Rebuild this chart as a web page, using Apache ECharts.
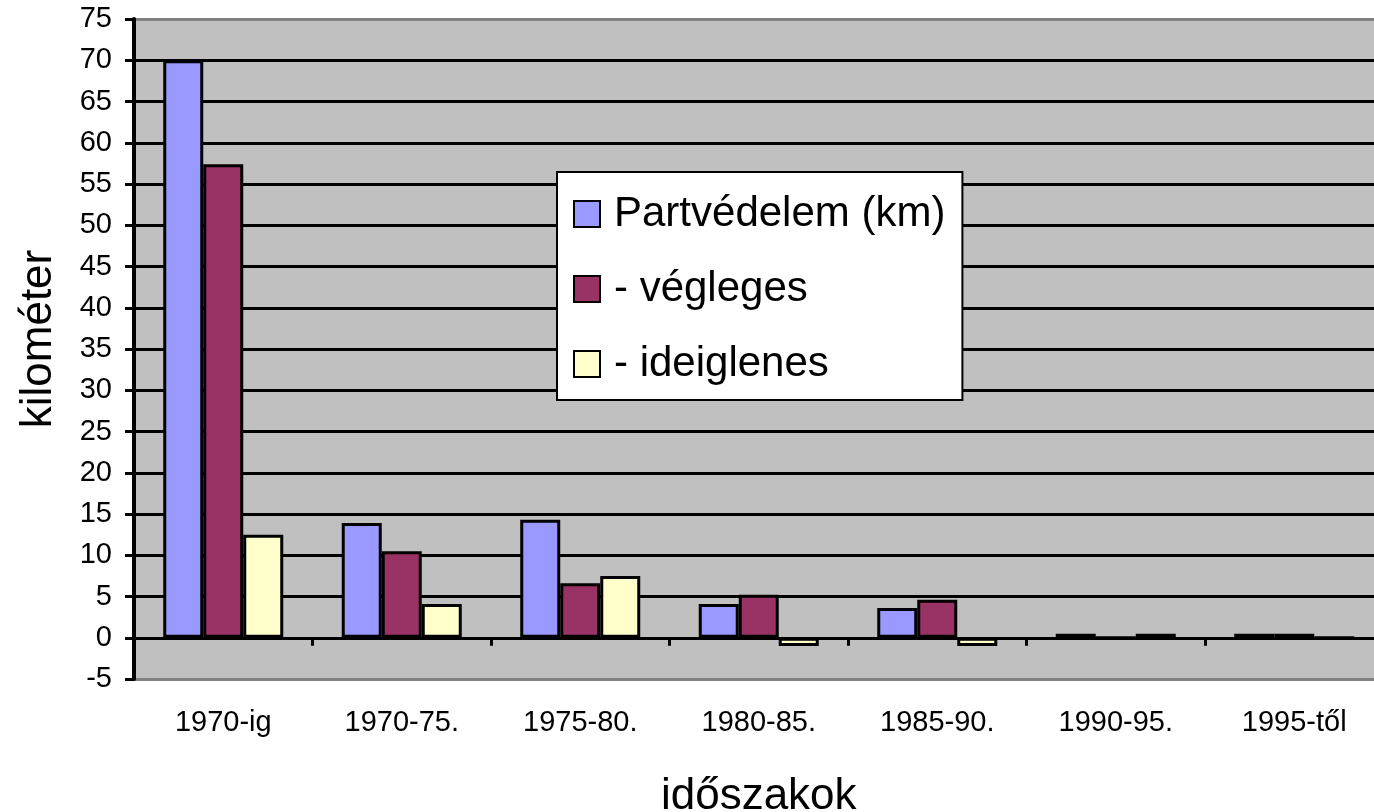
<!DOCTYPE html>
<html>
<head>
<meta charset="utf-8">
<title>Partvédelem</title>
<script src="https://cdn.jsdelivr.net/npm/echarts@6/dist/echarts.min.js"></script>
<style>
  html, body { margin: 0; padding: 0; background: #fff; }
  #chart { width: 1374px; height: 812px; }
</style>
</head>
<body>
<div id="chart"></div>
<script>
// adatok
var categories = ['1970-ig', '1970-75.', '1975-80.', '1980-85.', '1985-90.', '1990-95.', '1995-től'];
var partvedelem = [70, 13.9, 14.3, 4.1, 3.6, 0.5, 0.5];
var vegleges = [57.4, 10.5, 6.6, 5.2, 4.6, 0, 0.5];
var ideiglenes = [12.5, 4.1, 7.5, -1, -1, 0.5, 0];
var seriesNames = ['Partvédelem (km)', '- végleges', '- ideiglenes'];
var seriesColors = ['#9999ff', '#993366', '#ffffcc'];

var font = 'Liberation Sans, Arial, sans-serif';

// rácsvonalak: alul-felül szürke keret, közben fekete
var gridColors = [];
for (var i = 0; i <= 16; i++) {
    gridColors.push(i === 0 || i === 16 ? '#808080' : '#000');
}

var chart = echarts.init(document.getElementById('chart'));

function makeBar(name, data, color) {
    return {
        name: name,
        type: 'bar',
        data: data,
        barWidth: 40,
        barGap: '0%',
        itemStyle: {
            color: color,
            borderColor: '#000',
            borderWidth: 3
        },
        emphasis: { disabled: true }
    };
}

chart.setOption({
    backgroundColor: '#fff',
    animation: false,
    textStyle: { fontFamily: font },
    grid: {
        left: 134,
        top: 19,
        width: 1249.5,
        height: 660,
        show: true,
        backgroundColor: '#c0c0c0',
        borderColor: '#808080',
        borderWidth: 0,
        outerBoundsMode: 'none',
        containLabel: false
    },
    legend: {
        orient: 'vertical',
        left: 557,
        top: 172,
        data: seriesNames,
        icon: 'rect',
        itemWidth: 26,
        itemHeight: 26,
        itemGap: 33,
        itemStyle: { borderColor: '#000', borderWidth: 2 },
        textStyle: { fontSize: 42, color: '#000', fontFamily: font, padding: [0, 0, 0, 9] },
        backgroundColor: '#fff',
        borderColor: '#000',
        borderWidth: 2,
        padding: [21, 17, 15, 16],
        selectedMode: false
    },
    xAxis: {
        type: 'category',
        data: categories,
        name: 'időszakok',
        nameLocation: 'middle',
        nameGap: 96,
        nameTextStyle: { fontSize: 44, color: '#000', fontFamily: font },
        axisLine: { onZero: true, lineStyle: { color: '#000', width: 3 } },
        axisTick: { show: true, length: 8, lineStyle: { color: '#000', width: 3 } },
        axisLabel: { margin: 29, fontSize: 29, color: '#000', fontFamily: font },
        splitLine: { show: false }
    },
    yAxis: {
        type: 'value',
        min: -5,
        max: 75,
        interval: 5,
        name: 'kilométer',
        nameLocation: 'middle',
        nameGap: 73,
        nameTextStyle: { fontSize: 44, color: '#000', fontFamily: font, padding: [0, 0, 0, 20] },
        axisLine: { show: true, lineStyle: { color: '#000', width: 4 } },
        axisTick: { show: true, length: 9, lineStyle: { color: '#000', width: 3 } },
        axisLabel: { margin: 22, fontSize: 29, color: '#000', fontFamily: font },
        splitLine: { show: true, lineStyle: { color: gridColors, width: 3 } }
    },
    series: [
        makeBar(seriesNames[0], partvedelem, seriesColors[0]),
        makeBar(seriesNames[1], vegleges, seriesColors[1]),
        makeBar(seriesNames[2], ideiglenes, seriesColors[2])
    ]
});
</script>
</body>
</html>
